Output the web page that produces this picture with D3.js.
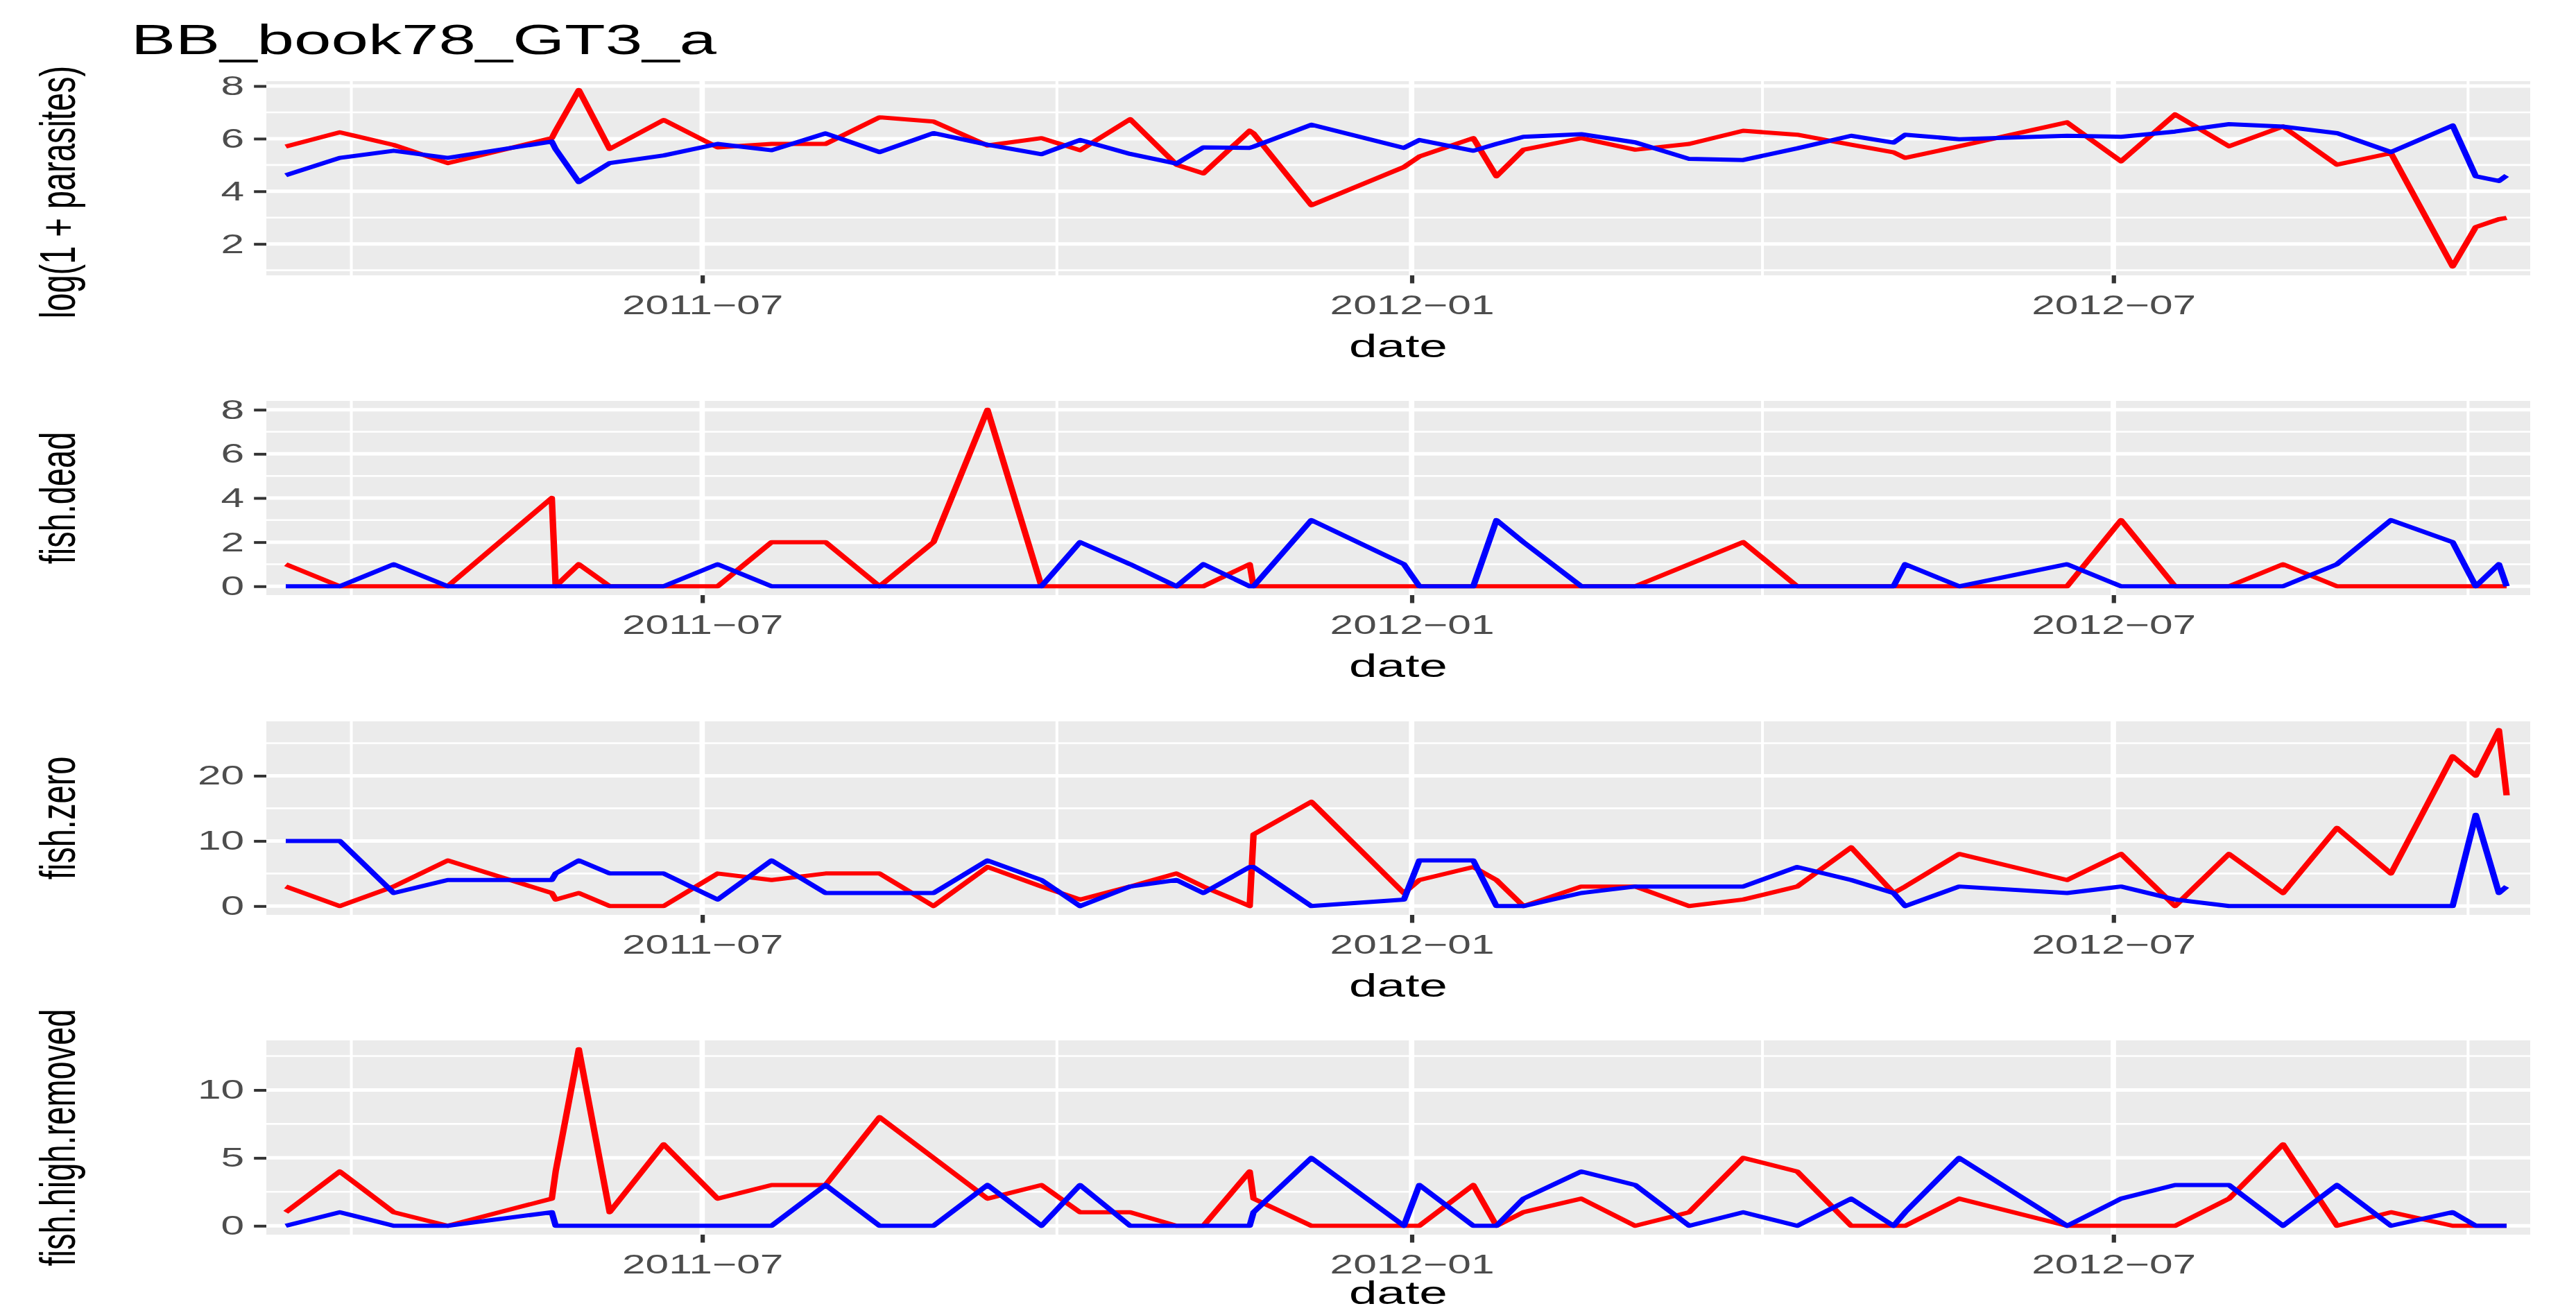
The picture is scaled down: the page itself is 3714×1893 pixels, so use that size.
<!DOCTYPE html>
<html>
<head>
<meta charset="utf-8">
<script src="https://cdn.jsdelivr.net/npm/d3@7"></script>
<style>
  html, body { margin: 0; padding: 0; background: #ffffff; overflow: hidden; }
  svg { display: block; }
  text { font-family: "Liberation Sans", Arial, Helvetica, sans-serif; }
</style>
</head>
<body>
<svg id="chart"></svg>
<script>
// ---- data ---------------------------------------------------------------
const dates = [
  "2011-03-15","2011-03-29","2011-04-12","2011-04-26","2011-05-23","2011-05-24","2011-05-30","2011-06-07",
  "2011-06-21","2011-07-05","2011-07-19","2011-08-02","2011-08-16","2011-08-30","2011-09-13","2011-09-27",
  "2011-10-07","2011-10-20","2011-11-01","2011-11-08","2011-11-20","2011-11-21","2011-12-06","2011-12-30",
  "2012-01-03","2012-01-17","2012-01-23","2012-01-30","2012-02-14","2012-02-28","2012-03-13","2012-03-27",
  "2012-04-10","2012-04-24","2012-05-05","2012-05-08","2012-05-22","2012-06-19","2012-07-03","2012-07-17",
  "2012-07-31","2012-08-14","2012-08-28","2012-09-11","2012-09-27","2012-10-03","2012-10-09","2012-10-11"
];

const parasitesRed = [5.70,6.24,5.76,5.07,6.02,6.30,7.85,5.61,6.71,5.67,5.80,5.80,6.81,6.65,5.74,6.02,
                      5.56,6.74,5.01,4.68,6.30,6.20,3.47,4.92,5.32,6.02,4.57,5.58,6.02,5.58,5.80,6.30,
                      6.15,5.77,5.48,5.27,5.71,6.62,5.14,6.92,5.71,6.46,5.01,5.45,1.14,2.64,2.94,2.99];
const parasitesBlue = [4.61,5.27,5.54,5.27,5.89,5.60,4.35,5.07,5.36,5.80,5.56,6.20,5.49,6.21,5.77,5.41,
                       5.95,5.42,5.05,5.67,5.65,5.70,6.53,5.65,5.95,5.54,5.80,6.07,6.17,5.86,5.23,5.19,
                       5.63,6.11,5.85,6.15,5.98,6.11,6.07,6.27,6.55,6.46,6.21,5.49,6.50,4.57,4.39,4.60];

const deadRed  = [1,0,0,0,4,0,1,0,0,0,2,2,0,2,8,0, 0,0,0,0,1,0,0,0,0,0,0,0,0,0,1,2, 0,0,0,0,0,0,3,0,0,1,0,0,0,0,0,0];
const deadBlue = [0,0,1,0,0,0,0,0,0,1,0,0,0,0,0,0, 2,1,0,1,0,0,3,1,0,0,3,2,0,0,0,0, 0,0,0,1,0,1,0,0,0,0,1,3,2,0,1,0];

const zeroRed  = [3,0,3,7,2,1,2,0,0,5,4,5,5,0,6,3, 1,3,5,3,0,11,16,2,4,6,4,0,3,3,0,1, 3,9,2,3,8,4,8,0,8,2,12,5,23,20,27,17];
const zeroBlue = [10,10,2,4,4,5,7,5,5,1,7,2,2,2,7,4, 0,3,4,2,6,6,0,1,7,7,0,0,2,3,3,3, 6,4,2,0,3,2,3,1,0,0,0,0,0,14,2,3];

const highRed  = [1,4,1,0,2,4,13,1,6,2,3,3,8,5,2,3, 1,1,0,0,4,2,0,0,0,3,0,1,2,0,1,5, 4,0,0,0,2,0,0,0,2,6,0,1,0,0,0,0];
const highBlue = [0,1,0,0,1,0,0,0,0,0,0,3,0,0,3,0, 3,0,0,0,0,1,5,0,3,0,0,2,4,3,0,1, 0,2,0,1,5,0,2,3,3,0,3,0,1,0,0,0];

const yLabels = ["log(1 + parasites)", "fish.dead", "fish.zero", "fish.high.removed"];
const yBreaks = [[2, 4, 6, 8], [0, 2, 4, 6, 8], [0, 10, 20], [0, 5, 10]];
const xBreaks = ["2011-07-01", "2012-01-01", "2012-07-01"];
const xMinorBreaks = ["2011-04-01", "2011-10-01", "2012-04-01", "2012-10-01"];
const plotTitle = "BB_book78_GT3_a";
const xTitle = "date";

// ---- layout -------------------------------------------------------------
const W = 3714, H = 1893;
const SX = 1.55;                 // horizontal stretch of the output
const VW = W / SX;               // drawing width in user units
const panelLeft = 384 / SX, panelRight = 3648 / SX;
const panelBoxes = [[117, 397], [578, 858], [1040, 1319], [1500, 1780]];
const yTitleShift = [20, 0, 0, 0];

const COL_RED = "#FF0000", COL_BLUE = "#0000FF";
const PANEL_BG = "#EBEBEB";
const TICK_LEN = 11.5, TICK_GAP = 9;
const FS_TICK = 39, FS_AXIS = 47, FS_TITLE = 62;

const parseDate = d3.utcParse("%Y-%m-%d");
const xDates = dates.map(parseDate);
const fmtMonth = d3.utcFormat("%Y-%m");

const svg = d3.select("#chart")
  .attr("width", W).attr("height", H)
  .attr("viewBox", `0 0 ${VW} ${H}`)
  .attr("preserveAspectRatio", "none");

svg.append("rect").attr("width", VW).attr("height", H).attr("fill", "#ffffff");

// shared time scale, 1% expansion of the date range
const [d0, d1] = d3.extent(xDates);
const span = d1 - d0;
const x = d3.scaleUtc()
  .domain([new Date(+d0 - 0.01 * span), new Date(+d1 + 0.01 * span)])
  .range([(384 - 4) / SX, (3648 - 2) / SX]);

const series = [
  [parasitesRed, parasitesBlue],
  [deadRed, deadBlue],
  [zeroRed, zeroBlue],
  [highRed, highBlue]
];

function minorsOf(br, dom) {
  const step = br[1] - br[0];
  const out = [];
  for (let i = -1; i < br.length; i++) {
    const v = br[0] + (i + 0.5) * step;
    if (v >= dom[0] && v <= dom[1]) out.push(v);
  }
  return out;
}

series.forEach((pair, pi) => {
  const [top, bottom] = panelBoxes[pi];
  const all = pair[0].concat(pair[1]);
  const lo = d3.min(all), hi = d3.max(all);
  const pad = 0.05 * (hi - lo);
  const dom = [lo - pad, hi + pad];
  const y = d3.scaleLinear().domain(dom).range([bottom, top]);

  const g = svg.append("g");

  // panel background
  g.append("rect")
    .attr("x", panelLeft).attr("y", top)
    .attr("width", panelRight - panelLeft).attr("height", bottom - top)
    .attr("fill", PANEL_BG);

  // minor grid
  minorsOf(yBreaks[pi], dom).forEach(v => {
    g.append("line").attr("x1", panelLeft).attr("x2", panelRight)
      .attr("y1", y(v)).attr("y2", y(v))
      .attr("stroke", "#ffffff").attr("stroke-width", 2.6);
  });
  xMinorBreaks.map(parseDate).forEach(d => {
    g.append("line").attr("x1", x(d)).attr("x2", x(d))
      .attr("y1", top).attr("y2", bottom)
      .attr("stroke", "#ffffff").attr("stroke-width", 2.6);
  });
  // major grid
  yBreaks[pi].forEach(v => {
    g.append("line").attr("x1", panelLeft).attr("x2", panelRight)
      .attr("y1", y(v)).attr("y2", y(v))
      .attr("stroke", "#ffffff").attr("stroke-width", 5);
  });
  xBreaks.map(parseDate).forEach(d => {
    g.append("line").attr("x1", x(d)).attr("x2", x(d))
      .attr("y1", top).attr("y2", bottom)
      .attr("stroke", "#ffffff").attr("stroke-width", 5);
  });

  // lines: red under blue
  const line = d3.line().x((d, i) => x(xDates[i])).y(d => y(d));
  [[pair[0], COL_RED], [pair[1], COL_BLUE]].forEach(([vals, col]) => {
    g.append("path").datum(vals)
      .attr("d", line)
      .attr("fill", "none")
      .attr("stroke", col)
      .attr("stroke-width", 6)
      .attr("stroke-linejoin", "round")
      .attr("stroke-linecap", "butt");
  });

  // y axis
  const yAxis = d3.axisLeft(y).tickValues(yBreaks[pi]).tickSize(TICK_LEN).tickPadding(TICK_GAP);
  const ya = g.append("g").attr("transform", `translate(${panelLeft},0)`).call(yAxis);
  ya.select(".domain").remove();
  ya.selectAll(".tick line").attr("stroke", "#333333").attr("stroke-width", 4);
  ya.selectAll(".tick text")
    .attr("fill", "#4D4D4D").attr("font-size", FS_TICK)
    .attr("font-family", "Liberation Sans, Arial, sans-serif");

  // x axis
  const xAxis = d3.axisBottom(x).tickValues(xBreaks.map(parseDate))
    .tickFormat(d => fmtMonth(d).replace("-", "\u2212"))
    .tickSize(TICK_LEN).tickPadding(TICK_GAP + 8);
  const xa = g.append("g").attr("transform", `translate(0,${bottom})`).call(xAxis);
  xa.select(".domain").remove();
  xa.selectAll(".tick line").attr("stroke", "#333333").attr("stroke-width", 4);
  xa.selectAll(".tick text")
    .attr("fill", "#4D4D4D").attr("font-size", FS_TICK)
    .attr("font-family", "Liberation Sans, Arial, sans-serif");

  // axis titles
  g.append("text")
    .attr("x", (panelLeft + panelRight) / 2).attr("y", Math.min(bottom + 118, H - 13))
    .attr("text-anchor", "middle").attr("font-size", FS_AXIS).attr("fill", "#000000")
    .text(xTitle);

  const cy = (top + bottom) / 2 + yTitleShift[pi];
  g.append("text")
    .attr("transform", `translate(${70},${cy}) rotate(-90)`)
    .attr("text-anchor", "middle").attr("font-size", FS_AXIS).attr("fill", "#000000")
    .text(yLabels[pi]);
});

// plot title
svg.append("text")
  .attr("x", 189 / SX).attr("y", 78)
  .attr("font-size", FS_TITLE).attr("fill", "#000000")
  .text(plotTitle);
</script>
</body>
</html>
